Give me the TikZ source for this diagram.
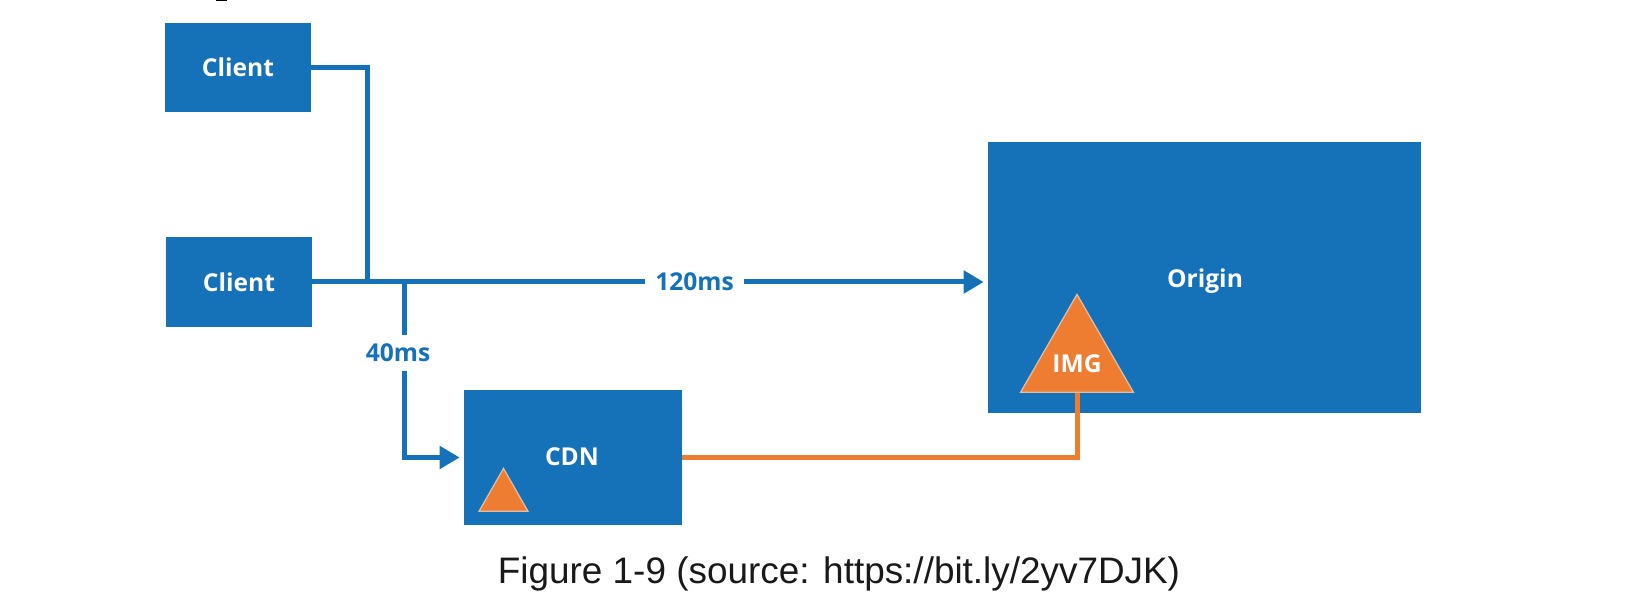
\documentclass[tikz,border=0pt]{standalone}
\usepackage{fontspec}
\usepackage{tikz}
\usepackage{xcolor}
\usetikzlibrary{shapes.geometric, arrows.meta, positioning, calc}
\setmainfont{Liberation Sans}
\newfontfamily\boxfont{Open Sans}
\definecolor{cBlue}{RGB}{21,113,184}
\definecolor{cOrange}{RGB}{238,125,49}
\definecolor{cEdge}{RGB}{222,190,165}
\tikzset{
	hostbox/.style ={rectangle, fill=cBlue, text=white, inner sep=0pt, align=center, font=\boxfont\bfseries\fontsize{14}{16}\selectfont},
	boxlabel/.style={text=white, font=\boxfont\bfseries\fontsize{14}{16}\selectfont},
	wirelabel/.style={fill=white, text=cBlue, inner xsep=0.2cm, inner ysep=0.17cm, font=\boxfont\bfseries\fontsize{14}{16}\selectfont},
	imgtri/.style  ={isosceles triangle, isosceles triangle stretches, shape border rotate=90, fill=cOrange, draw=cEdge, line width=0.25mm, inner sep=0pt, anchor=south},
	bluewire/.style={draw=cBlue, line width=0.1cm},
	bluearrow/.style={bluewire, -{Triangle[length=0.4cm, width=0.44cm]}, shorten >=0.08cm},
	orangewire/.style={draw=cOrange, line width=0.1cm},
}
\begin{document}
\begin{tikzpicture}[x=0.02cm, y=-0.02cm]
	\useasboundingbox (0,0) rectangle (1630,604);
	% hosts
	\node[hostbox, minimum width=2.92cm, minimum height=1.8cm] (clienta) at (238,67.5) {Client};
	\node[hostbox, minimum width=2.92cm, minimum height=1.82cm] (clientb) at (239,282) {Client};
	\node[hostbox, minimum width=4.36cm, minimum height=2.7cm] (cdn) at (573,457.5) {};
	\node[hostbox, minimum width=8.66cm, minimum height=5.42cm] (origin) at (1204.5,277.5) {};
	\node[boxlabel] (cdnlabel) at (572,457) {CDN};
	\node[boxlabel] (originlabel) at (1205,281) {Origin};
	% cached image triangles
	\node[imgtri, minimum width=0.98cm, minimum height=0.86cm] (tricdn) at (503.5,512) {};
	\node[imgtri, minimum width=2.26cm, minimum height=1.96cm] (triorigin) at (1077,393) {};
	\node[boxlabel] (imglabel) at (1077,364) {IMG};
	\coordinate (joina) at (367,282);
	\coordinate (joinb) at (404,282);
	% connectors
	\draw[bluewire] (clienta.east) -| (joina);
	\draw[bluearrow] (clientb.east) -- (clientb.east -| origin.west) node[wirelabel, pos=0.566] (slow) {120ms};
	\draw[bluearrow] (joinb) |- (cdn.west);
	\node[wirelabel, inner xsep=0.05cm] (fast) at (398,353) {40ms};
	\draw[orangewire] (cdn.east) -| (triorigin.south);
	\node[text=black!90, font=\fontsize{21}{24}\selectfont] (caption) at (839,574) {Figure 1-9 (source: https://bit.ly/2yv7DJK)};
	\fill[black] (216,0) rectangle (227,1.5);
\end{tikzpicture}
\end{document}
